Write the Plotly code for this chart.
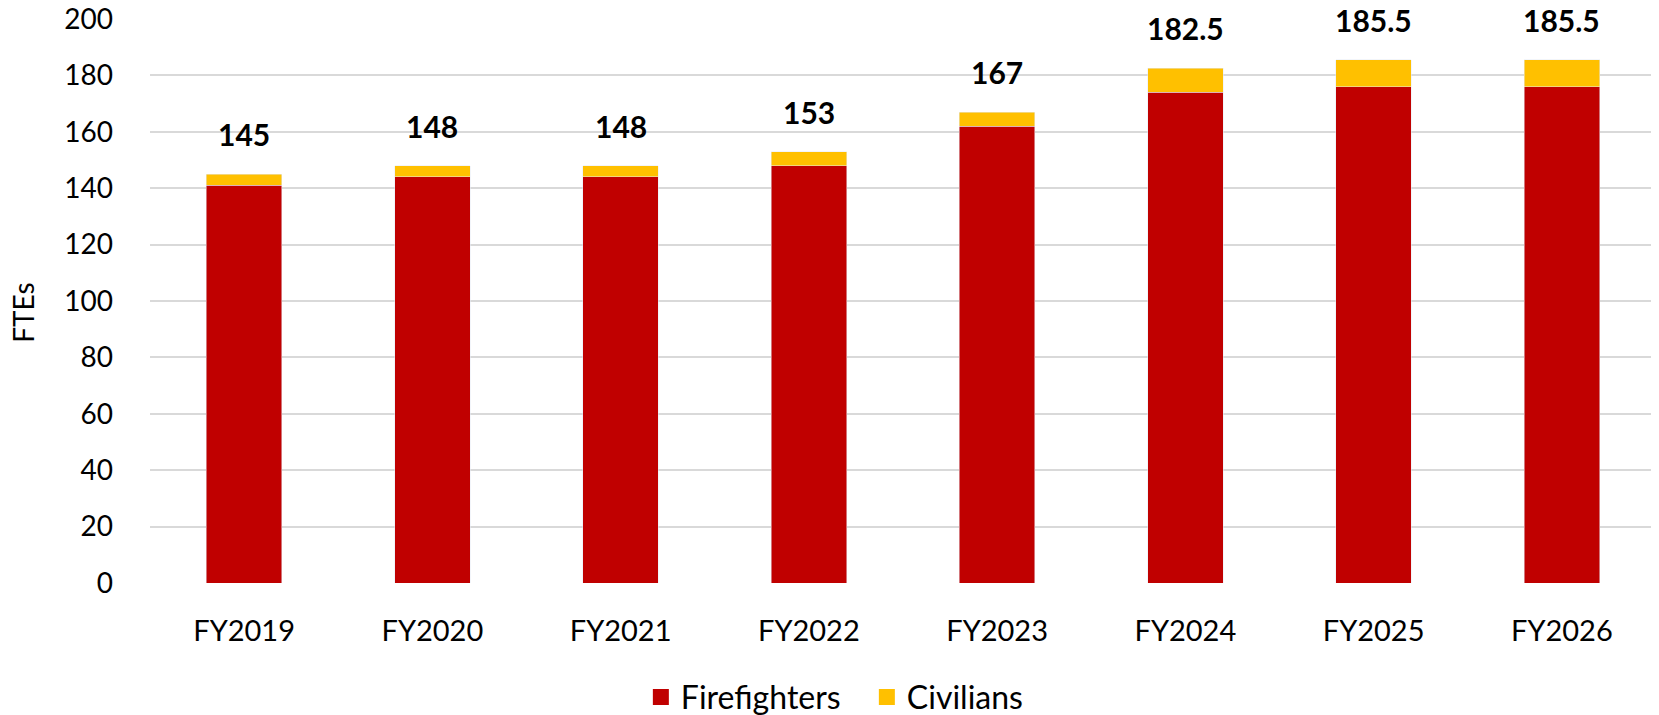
import plotly.graph_objects as go

# FTE counts by fiscal year
years = ["FY2019", "FY2020", "FY2021", "FY2022", "FY2023", "FY2024", "FY2025", "FY2026"]
firefighters = [141, 144, 144, 148, 162, 174, 176, 176]
civilians = [4, 4, 4, 5, 5, 8.5, 9.5, 9.5]
totals = [145, 148, 148, 153, 167, 182.5, 185.5, 185.5]
y_ticks = [0, 20, 40, 60, 80, 100, 120, 140, 160, 180, 200]

FONT = "Lato, Carlito, Calibri, sans-serif"
RED = "#C00000"
GOLD = "#FFC000"

fig = go.Figure()
fig.add_trace(go.Bar(x=years, y=firefighters, name="Firefighters", marker_color=RED, showlegend=False))
fig.add_trace(go.Bar(x=years, y=civilians, name="Civilians", marker_color=GOLD, showlegend=False))

# legend-only entries, so the swatches can be bigger than the default bar icon
for name, col in [("Firefighters", RED), ("Civilians", GOLD)]:
    fig.add_trace(go.Scatter(
        x=[None], y=[None], mode="markers", name=name,
        marker=dict(symbol="square", size=16, color=col),
    ))

# total labels above each stacked bar
for yr, tot in zip(years, totals):
    fig.add_annotation(
        x=yr, y=tot, text="<b>%g</b>" % tot, showarrow=False,
        yanchor="middle", yshift=40,
        font=dict(family=FONT, size=30, color="#000000"),
    )

# y axis title placed by hand (sits slightly below the middle)
fig.add_annotation(
    text="FTEs", textangle=-90, showarrow=False,
    xref="paper", yref="paper", x=-0.084, y=0.48,
    xanchor="center", yanchor="middle",
    font=dict(family=FONT, size=28, color="#000000"),
)

fig.update_layout(
    barmode="stack",
    bargap=0.6,
    width=1659,
    height=715,
    margin=dict(l=142, r=11, t=11, b=140, autoexpand=False),
    paper_bgcolor="white",
    plot_bgcolor="white",
    font=dict(family=FONT, size=28, color="#000000"),
    legend=dict(
        orientation="h", xanchor="center", x=0.476, yanchor="middle", y=-0.2025,
        font=dict(family=FONT, size=32), traceorder="normal",
        entrywidth=181, entrywidthmode="pixels",
    ),
    xaxis=dict(ticklabelstandoff=28, showline=False, automargin=False,
               tickfont=dict(size=29)),
    yaxis=dict(
        range=[0, 200], tickvals=y_ticks, gridcolor="#d9d9d9", gridwidth=2,
        zeroline=False, ticklabelstandoff=36, automargin=False,
        ticklabeloverflow="allow",
    ),
)

fig.write_html("out.html")
